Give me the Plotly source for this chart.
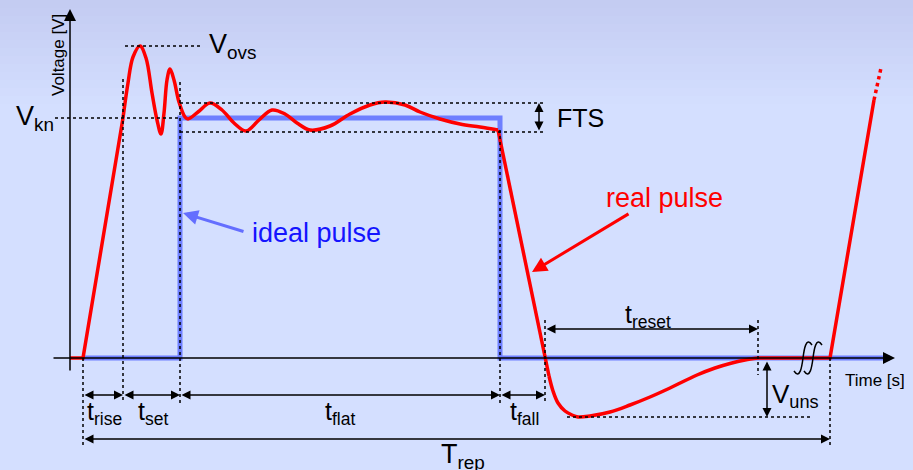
import plotly.graph_objects as go

# key instants on the time axis (diagram units) and voltage levels
t_start = 83
t_rise_end = 123
t_set_end = 180
t_flat_end = 500
t_fall_end = 545
t_reset_end = 758
t_rep_end = 830

v_kn = 240
v_ovs = 312
fts_hi = 255
fts_lo = 226
v_uns = -59

# ideal pulse
ideal_t = [83, 180, 180, 500, 500, 890]
ideal_v = [0, 0, 240, 240, 0, 0]

# real pulse, piece by piece
rise_t = [70, 83, 123]
rise_v = [0, 0, 240]

ring_t = [123, 128, 133, 140, 146, 152, 157, 161, 164, 167, 170, 174, 179, 185, 188,
          198, 210, 222, 234, 246, 259, 272, 285, 297, 310, 330, 350, 370, 385,
          405, 420, 440, 460, 480, 498]
ring_v = [240, 275, 301, 312, 300, 265, 238, 224, 245, 278, 289, 278, 256, 241, 239,
          246, 255, 248, 235, 227, 238, 248, 244, 235, 228, 232, 244, 253, 256,
          253, 246, 239, 234, 231, 228]

fall_t = [498, 545, 549]
fall_v = [228, 0, -18]

uns_t = [549, 553, 558, 565, 572, 578, 590, 610, 630, 650, 670, 697, 715, 730, 745, 758]
uns_v = [-18, -33, -45, -53, -57, -59, -58, -54, -47, -39, -30, -17, -10, -5.5, -2, 0]

next_t = [758, 830, 874]
next_v = [0, 0, 258]

dots_t = [874, 881]
dots_v = [258, 290]

RED = "rgb(255,0,0)"
BLUE = "rgba(70,90,255,0.72)"
FONT = "Liberation Sans, Arial, sans-serif"

fig = go.Figure()

fig.add_trace(go.Scatter(x=ideal_t, y=ideal_v, mode="lines",
                         line=dict(color=BLUE, width=5)))
for xs, ys, shape in [(rise_t, rise_v, "linear"), (ring_t, ring_v, "spline"),
                      (fall_t, fall_v, "linear"), (uns_t, uns_v, "spline"),
                      (next_t, next_v, "linear")]:
    fig.add_trace(go.Scatter(x=xs, y=ys, mode="lines",
                             line=dict(color=RED, width=3.5, shape=shape)))
fig.add_trace(go.Scatter(x=dots_t, y=dots_v, mode="lines",
                         line=dict(color=RED, width=3.5, dash="dot")))

# background gradient
shapes = []
top = (196, 204, 242)
bot = (212, 223, 255)
n = 14
for i in range(n):
    f = i / (n - 1)
    c = tuple(round(top[k] + (bot[k] - top[k]) * f) for k in range(3))
    shapes.append(dict(type="rect", xref="paper", yref="paper", x0=0, x1=1,
                       y0=1 - (i + 1) * 8 / 470, y1=1 - i * 8 / 470,
                       line=dict(width=0), fillcolor="rgb(%d,%d,%d)" % c, layer="below"))


def dotted(x0, y0, x1, y1):
    shapes.append(dict(type="line", xref="x", yref="y", x0=x0, y0=y0, x1=x1, y1=y1,
                       line=dict(color="black", width=1.5, dash="dot")))


dotted(125, v_ovs, 202, v_ovs)
dotted(55, v_kn, t_set_end, v_kn)
dotted(t_set_end, fts_hi, 545, fts_hi)
dotted(t_set_end, fts_lo, 545, fts_lo)
dotted(567, v_uns, 810, v_uns)
dotted(t_start, 0, t_start, -87)
dotted(t_rise_end, 279, t_rise_end, -44)
dotted(t_set_end, 276, t_set_end, -48)
dotted(t_flat_end, 228, t_flat_end, -45)
dotted(t_fall_end, 38, t_fall_end, -45)
dotted(t_reset_end, 38, t_reset_end, -17)
dotted(t_rep_end, 0, t_rep_end, -87)

# break marks on the time axis
for off in (0, 10):
    shapes.append(dict(type="path", xref="x", yref="y",
                       path="M %d,-13 C %d,-22 %d,-8 %d,0 C %d,8 %d,22 %d,13" % (
                           794 + off, 800 + off, 802 + off, 803 + off, 804 + off, 806 + off, 812 + off),
                       line=dict(color="black", width=1.5)))

ann = []


def arrow(x0, y0, x1, y1, both=False, color="black", width=1.5, size=1.2, head=2):
    ann.append(dict(x=x1, y=y1, ax=x0, ay=y0, xref="x", yref="y", axref="x", ayref="y",
                    text="", showarrow=True, arrowhead=head, startarrowhead=head,
                    arrowside="end+start" if both else "end",
                    arrowsize=size, startarrowsize=size, arrowwidth=width,
                    arrowcolor=color, standoff=0, startstandoff=0))


def label(x, y, text, size=24, color="black", xanchor="center", angle=0):
    ann.append(dict(x=x, y=y, xref="x", yref="y", text=text, showarrow=False,
                    xanchor=xanchor, yanchor="middle", textangle=angle,
                    font=dict(family=FONT, size=size, color=color)))


# axes
arrow(70, -14, 70, 349, size=1.6)
arrow(52, 0, 895, 0, size=1.6)

# dimension arrows
arrow(t_start, -37, t_rise_end, -37, both=True)
arrow(t_rise_end, -37, t_set_end, -37, both=True)
arrow(t_set_end, -37, t_flat_end, -37, both=True)
arrow(t_flat_end, -37, t_fall_end, -37, both=True)
arrow(t_start, -81, t_rep_end, -81, both=True)
arrow(t_fall_end, 29, t_reset_end, 29, both=True)
arrow(539, fts_lo, 539, fts_hi, both=True)
arrow(767, -2, 767, v_uns, both=True)

# pointers
arrow(245, 126, 183, 145, color="rgb(100,110,255)", width=3, size=1)
arrow(630, 145, 532, 86, color=RED, width=3, size=1)

label(207, 312, "V<sub>ovs</sub>", 27, xanchor="left")
label(14, 240, "V<sub>kn</sub>", 27, xanchor="left")
label(555, 240, "FTS", 25, xanchor="left")
label(104, -55, "t<sub>rise</sub>", 25)
label(153, -55, "t<sub>set</sub>", 25)
label(340, -55, "t<sub>flat</sub>", 25)
label(524, -55, "t<sub>fall</sub>", 25)
label(648, 42, "t<sub>reset</sub>", 25)
label(770, -37, "V<sub>uns</sub>", 26, xanchor="left")
label(463, -98, "T<sub>rep</sub>", 27)
label(250, 125, "ideal pulse", 27, color="rgb(20,20,255)", xanchor="left")
label(604, 160, "real pulse", 27, color=RED, xanchor="left")
label(843, -22, "Time [s]", 17, xanchor="left")
label(58, 303, "Voltage [V]", 17, angle=-90)

fig.update_layout(
    width=913, height=470,
    margin=dict(l=0, r=0, t=0, b=0),
    paper_bgcolor="rgb(212,223,255)",
    plot_bgcolor="rgba(0,0,0,0)",
    showlegend=False,
    xaxis=dict(range=[0, 913], visible=False, fixedrange=True),
    yaxis=dict(range=[-112, 358], visible=False, fixedrange=True),
    shapes=shapes,
    annotations=ann,
    font=dict(family=FONT),
)

# the page body has a default margin; drop it so the figure fills the window
fig.write_html("out.html", post_script="document.body.style.margin='0';",
               config={"displayModeBar": False})
